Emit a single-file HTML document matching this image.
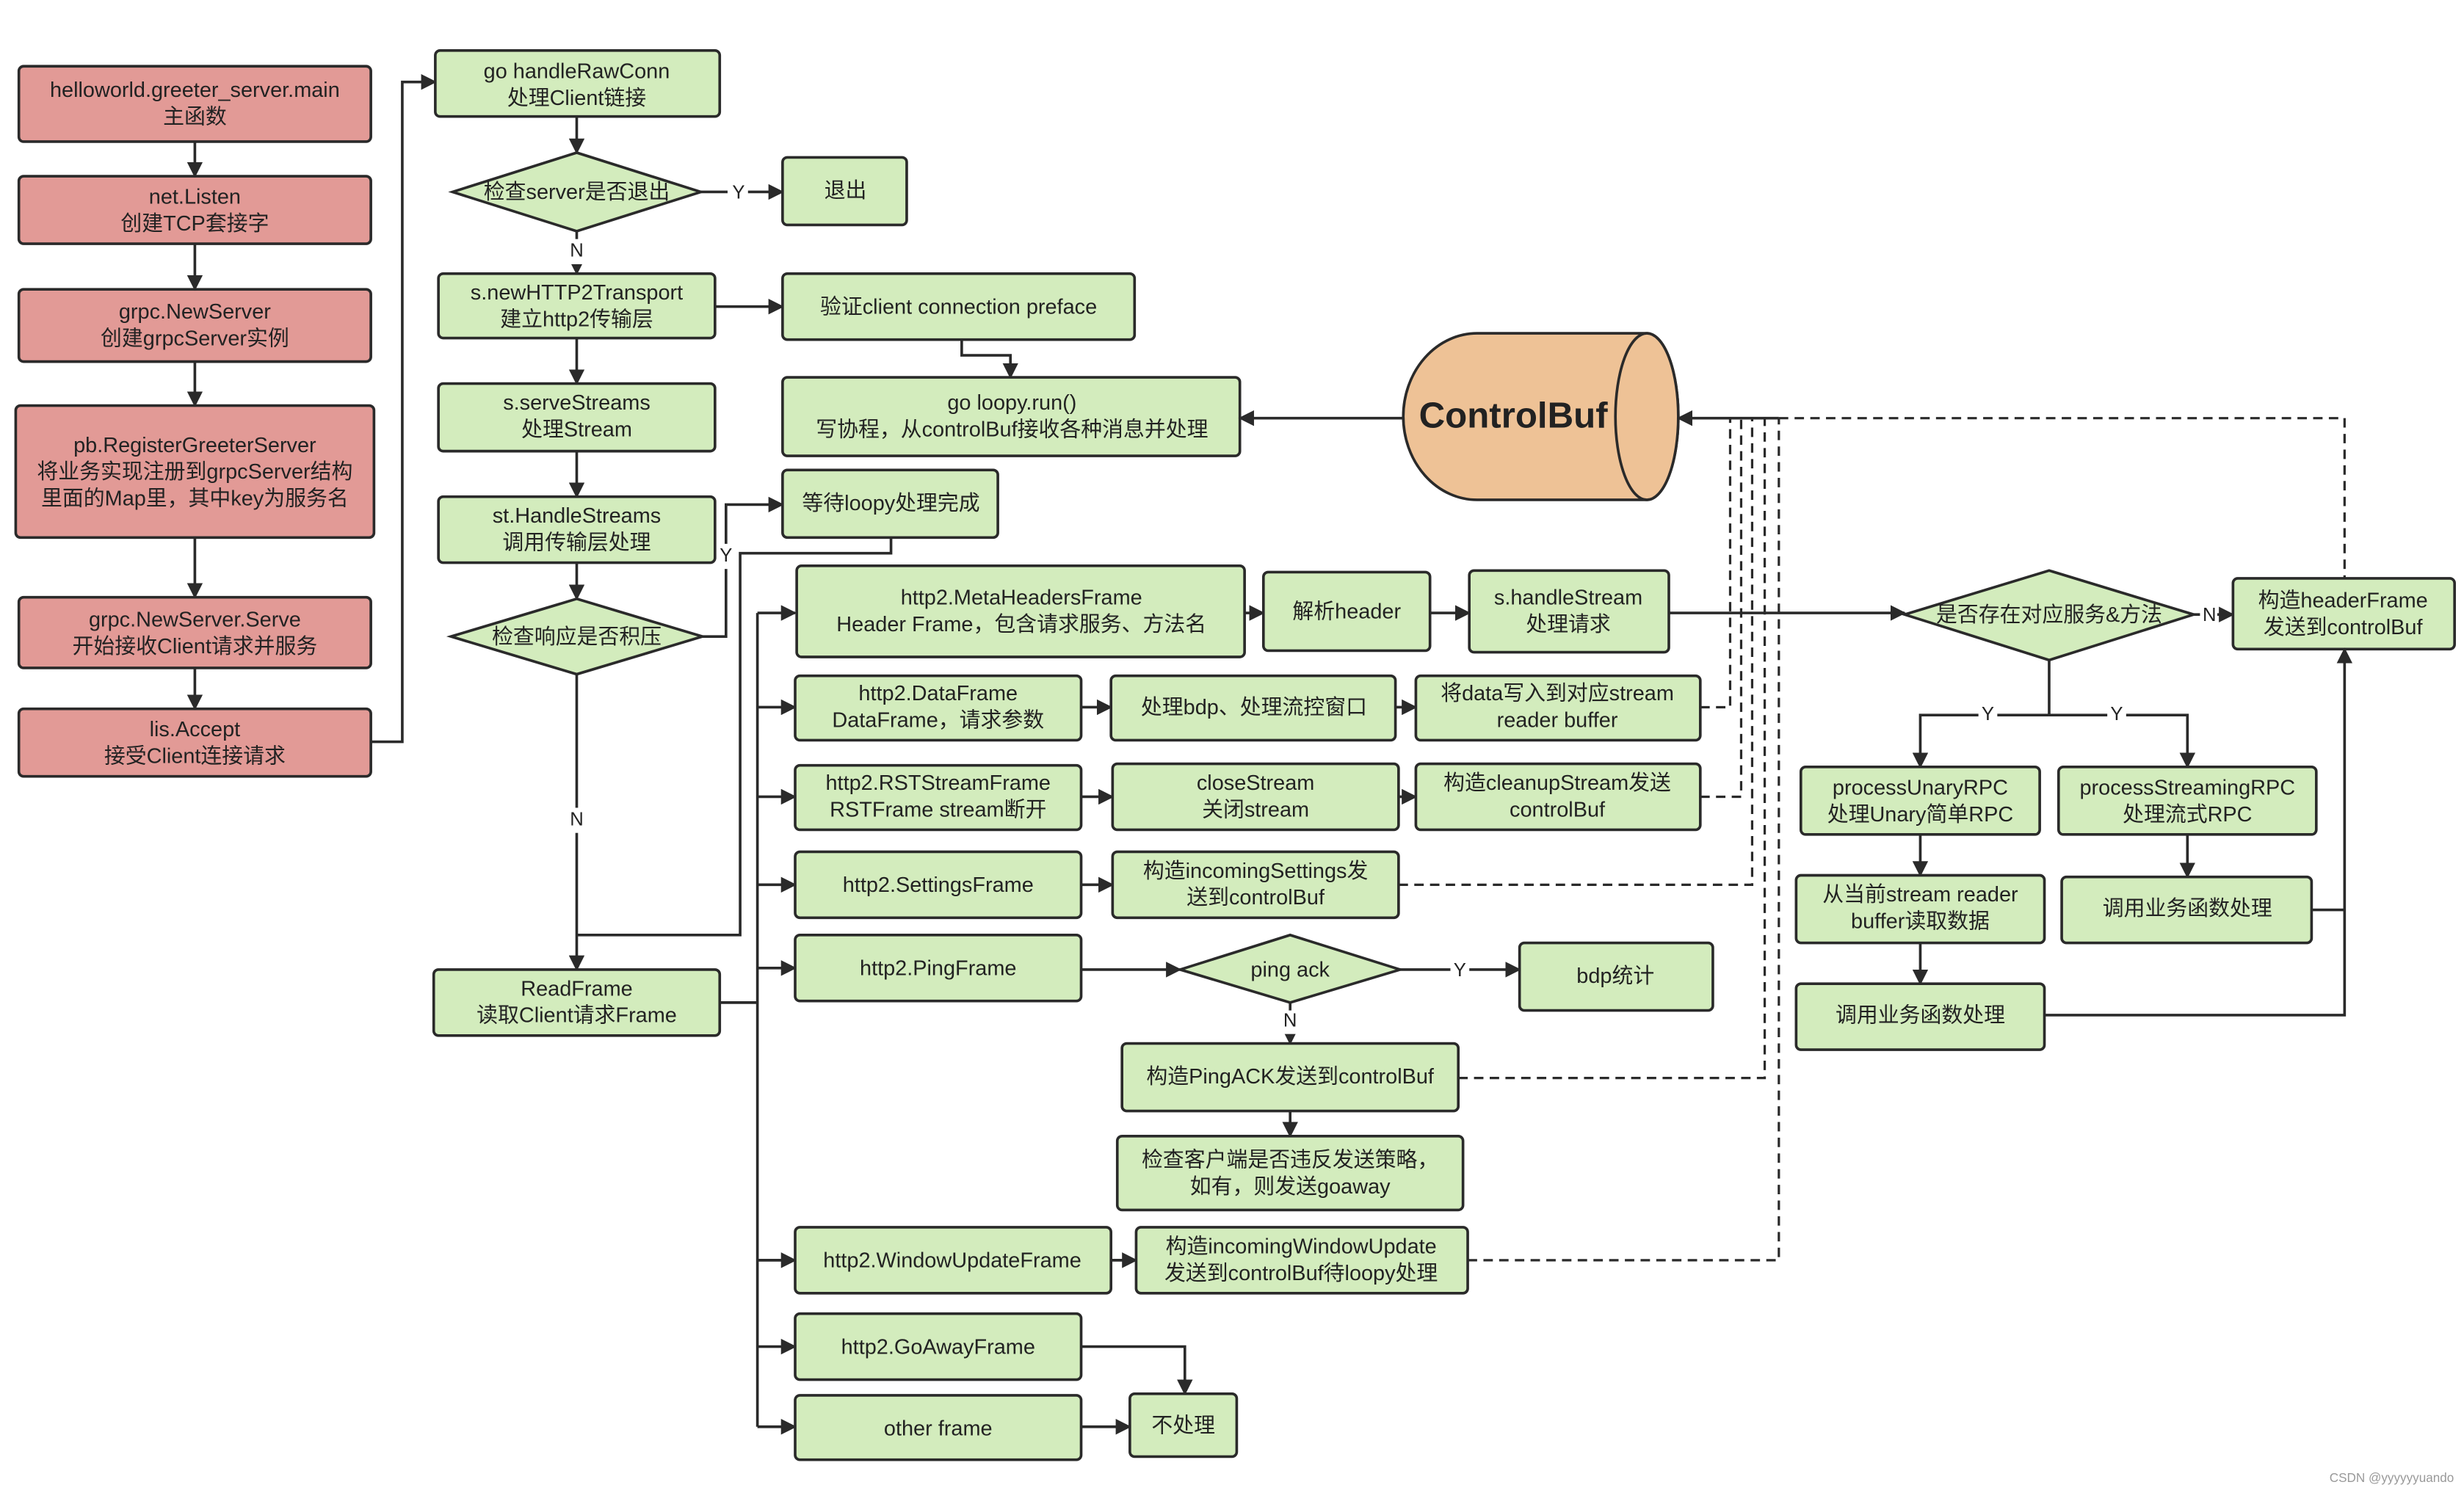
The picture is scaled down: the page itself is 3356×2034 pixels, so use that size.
<!DOCTYPE html>
<html><head><meta charset="utf-8"><style>
html,body{margin:0;padding:0;background:#fff;}
svg{display:block;}
text{font-family:"Liberation Sans","Noto Sans CJK SC",sans-serif;font-size:13.5px;fill:#222;text-anchor:middle;dominant-baseline:middle;}
.g{fill:#d3ecbd;stroke:#2a2a2a;stroke-width:1.7;}
.r{fill:#e29a96;stroke:#2a2a2a;stroke-width:1.7;}
.l{fill:none;stroke:#2a2a2a;stroke-width:1.7;}
.d{fill:none;stroke:#2a2a2a;stroke-width:1.5;stroke-dasharray:6 4;}
.lb{font-size:12px;}
</style></head><body>
<svg width="3356" height="2034" viewBox="0 0 1568 950" xmlns="http://www.w3.org/2000/svg">
<defs>
<marker id="a" markerWidth="10" markerHeight="10" refX="9" refY="5" orient="auto" markerUnits="userSpaceOnUse">
<path d="M0,0 L10,5 L0,10 z" fill="#2a2a2a"/></marker>
</defs>

<!-- left column red -->
<rect class="r" x="12" y="42" width="224" height="48" rx="3"/>
<text x="124" y="58">helloworld.greeter_server.main</text><text x="124" y="75">主函数</text>
<rect class="r" x="12" y="112" width="224" height="43" rx="3"/>
<text x="124" y="126">net.Listen</text><text x="124" y="143">创建TCP套接字</text>
<rect class="r" x="12" y="184" width="224" height="46" rx="3"/>
<text x="124" y="199">grpc.NewServer</text><text x="124" y="216">创建grpcServer实例</text>
<rect class="r" x="10" y="258" width="228" height="84" rx="3"/>
<text x="124" y="284">pb.RegisterGreeterServer</text><text x="124" y="301">将业务实现注册到grpcServer结构</text><text x="124" y="318">里面的Map里，其中key为服务名</text>
<rect class="r" x="12" y="380" width="224" height="45" rx="3"/>
<text x="124" y="395">grpc.NewServer.Serve</text><text x="124" y="412">开始接收Client请求并服务</text>
<rect class="r" x="12" y="451" width="224" height="43" rx="3"/>
<text x="124" y="465">lis.Accept</text><text x="124" y="482">接受Client连接请求</text>
<path class="l" d="M124,90V112" marker-end="url(#a)"/>
<path class="l" d="M124,155V184" marker-end="url(#a)"/>
<path class="l" d="M124,230V258" marker-end="url(#a)"/>
<path class="l" d="M124,342V380" marker-end="url(#a)"/>
<path class="l" d="M124,425V451" marker-end="url(#a)"/>
<path class="l" d="M236,472H256V52H277" marker-end="url(#a)"/>

<!-- column 2 -->
<rect class="g" x="277" y="32" width="181" height="42" rx="3"/>
<text x="367" y="46">go handleRawConn</text><text x="367" y="63">处理Client链接</text>
<path class="l" d="M367,74V97" marker-end="url(#a)"/>
<polygon class="g" points="288,122 367,97 446,122 367,147"/>
<text x="367" y="123">检查server是否退出</text>
<path class="l" d="M446,122H498" marker-end="url(#a)"/>
<rect x="463" y="114" width="13" height="16" fill="#fff"/><text x="470" y="123" class="lb">Y</text>
<rect class="g" x="498" y="100" width="79" height="43" rx="3"/><text x="538" y="122">退出</text>
<path class="l" d="M367,147V174" marker-end="url(#a)"/>
<rect x="361" y="152" width="12" height="16" fill="#fff"/><text x="367" y="160" class="lb">N</text>
<rect class="g" x="279" y="174" width="176" height="41" rx="3"/>
<text x="367" y="187">s.newHTTP2Transport</text><text x="367" y="204">建立http2传输层</text>
<path class="l" d="M455,195H498" marker-end="url(#a)"/>
<rect class="g" x="498" y="174" width="224" height="42" rx="3"/>
<text x="610" y="196">验证client connection preface</text>
<path class="l" d="M612,216V226H643V240" marker-end="url(#a)"/>
<rect class="g" x="498" y="240" width="291" height="50" rx="3"/>
<text x="644" y="257">go loopy.run()</text><text x="644" y="274">写协程，从controlBuf接收各种消息并处理</text>
<path class="l" d="M367,215V244" marker-end="url(#a)"/>
<rect class="g" x="279" y="244" width="176" height="43" rx="3"/>
<text x="367" y="257">s.serveStreams</text><text x="367" y="274">处理Stream</text>
<path class="l" d="M367,287V316" marker-end="url(#a)"/>
<rect class="g" x="279" y="316" width="176" height="42" rx="3"/>
<text x="367" y="329">st.HandleStreams</text><text x="367" y="346">调用传输层处理</text>
<path class="l" d="M367,358V381" marker-end="url(#a)"/>
<polygon class="g" points="287,405 367,381 447,405 367,429"/>
<text x="367" y="406">检查响应是否积压</text>
<path class="l" d="M447,405H462V321H498" marker-end="url(#a)"/>
<rect x="456" y="346" width="12" height="16" fill="#fff"/><text x="462" y="354" class="lb">Y</text>
<rect class="g" x="498" y="299" width="137" height="43" rx="3"/><text x="567" y="321">等待loopy处理完成</text>
<path class="l" d="M567,342V352H471V595H367"/>
<path class="l" d="M367,429V617" marker-end="url(#a)"/>
<rect x="361" y="514" width="12" height="16" fill="#fff"/><text x="367" y="522" class="lb">N</text>
<rect class="g" x="276" y="617" width="182" height="42" rx="3"/>
<text x="367" y="630">ReadFrame</text><text x="367" y="647">读取Client请求Frame</text>

<!-- bus -->
<path class="l" d="M458,638H482"/>
<path class="l" d="M482,390V908"/>
<path class="l" d="M482,390H506" marker-end="url(#a)"/>
<path class="l" d="M482,450H506" marker-end="url(#a)"/>
<path class="l" d="M482,507H506" marker-end="url(#a)"/>
<path class="l" d="M482,563H506" marker-end="url(#a)"/>
<path class="l" d="M482,616H506" marker-end="url(#a)"/>
<path class="l" d="M482,802H506" marker-end="url(#a)"/>
<path class="l" d="M482,857H506" marker-end="url(#a)"/>
<path class="l" d="M482,908H506" marker-end="url(#a)"/>

<!-- frames -->
<rect class="g" x="507" y="360" width="285" height="58" rx="3"/>
<text x="650" y="381">http2.MetaHeadersFrame</text><text x="650" y="398">Header Frame，包含请求服务、方法名</text>
<rect class="g" x="506" y="430" width="182" height="41" rx="3"/>
<text x="597" y="442">http2.DataFrame</text><text x="597" y="459">DataFrame，请求参数</text>
<rect class="g" x="506" y="487" width="182" height="41" rx="3"/>
<text x="597" y="499">http2.RSTStreamFrame</text><text x="597" y="516">RSTFrame stream断开</text>
<rect class="g" x="506" y="542" width="182" height="42" rx="3"/><text x="597" y="564">http2.SettingsFrame</text>
<rect class="g" x="506" y="595" width="182" height="42" rx="3"/><text x="597" y="617">http2.PingFrame</text>
<rect class="g" x="506" y="781" width="201" height="42" rx="3"/><text x="606" y="803">http2.WindowUpdateFrame</text>
<rect class="g" x="506" y="836" width="182" height="42" rx="3"/><text x="597" y="858">http2.GoAwayFrame</text>
<rect class="g" x="506" y="888" width="182" height="41" rx="3"/><text x="597" y="910">other frame</text>

<!-- second level -->
<path class="l" d="M792,390H804" marker-end="url(#a)"/>
<rect class="g" x="804" y="364" width="106" height="50" rx="3"/><text x="857" y="390">解析header</text>
<path class="l" d="M910,390H935" marker-end="url(#a)"/>
<rect class="g" x="935" y="363" width="127" height="52" rx="3"/>
<text x="998" y="381">s.handleStream</text><text x="998" y="398">处理请求</text>

<path class="l" d="M688,450H707" marker-end="url(#a)"/>
<rect class="g" x="707" y="430" width="181" height="41" rx="3"/><text x="798" y="451">处理bdp、处理流控窗口</text>
<path class="l" d="M888,450H901" marker-end="url(#a)"/>
<rect class="g" x="901" y="430" width="181" height="41" rx="3"/>
<text x="991" y="442">将data写入到对应stream</text><text x="991" y="459">reader buffer</text>

<path class="l" d="M688,507H708" marker-end="url(#a)"/>
<rect class="g" x="708" y="486" width="182" height="42" rx="3"/>
<text x="799" y="499">closeStream</text><text x="799" y="516">关闭stream</text>
<path class="l" d="M890,507H901" marker-end="url(#a)"/>
<rect class="g" x="901" y="486" width="181" height="42" rx="3"/>
<text x="991" y="499">构造cleanupStream发送</text><text x="991" y="516">controlBuf</text>

<path class="l" d="M688,563H708" marker-end="url(#a)"/>
<rect class="g" x="708" y="542" width="182" height="42" rx="3"/>
<text x="799" y="555">构造incomingSettings发</text><text x="799" y="572">送到controlBuf</text>

<path class="l" d="M688,617H751" marker-end="url(#a)"/>
<polygon class="g" points="751,617 821,595 891,617 821,638"/>
<text x="821" y="618">ping ack</text>
<path class="l" d="M891,617H967" marker-end="url(#a)"/>
<rect x="923" y="609" width="12" height="16" fill="#fff"/><text x="929" y="618" class="lb">Y</text>
<rect class="g" x="967" y="600" width="123" height="43" rx="3"/><text x="1028" y="622">bdp统计</text>
<path class="l" d="M821,638V664" marker-end="url(#a)"/>
<rect x="815" y="643" width="12" height="15" fill="#fff"/><text x="821" y="650" class="lb">N</text>
<rect class="g" x="714" y="664" width="214" height="43" rx="3"/><text x="821" y="686">构造PingACK发送到controlBuf</text>
<path class="l" d="M821,707V723" marker-end="url(#a)"/>
<rect class="g" x="711" y="723" width="220" height="47" rx="3"/>
<text x="821" y="739">检查客户端是否违反发送策略，</text><text x="821" y="756">如有，则发送goaway</text>

<path class="l" d="M707,802H723" marker-end="url(#a)"/>
<rect class="g" x="723" y="781" width="211" height="42" rx="3"/>
<text x="828" y="794">构造incomingWindowUpdate</text><text x="828" y="811">发送到controlBuf待loopy处理</text>

<path class="l" d="M688,857H754V887" marker-end="url(#a)"/>
<path class="l" d="M688,908H719" marker-end="url(#a)"/>
<rect class="g" x="719" y="887" width="68" height="40" rx="3"/><text x="753" y="908">不处理</text>

<!-- ControlBuf cylinder -->
<path d="M940,212 H1048 A20,53 0 0 1 1048,318 H940 A47,53 0 0 1 893,265 A47,53 0 0 1 940,212 Z" fill="#eec296" stroke="#2a2a2a" stroke-width="1.7"/>
<ellipse cx="1048" cy="265" rx="20" ry="53" fill="#eec296" stroke="#2a2a2a" stroke-width="1.7"/>
<text x="963" y="266" style="font-size:23px;font-weight:bold;">ControlBuf</text>
<path class="l" d="M893,266H789" marker-end="url(#a)"/>
<path class="l" d="M1132,266H1068" marker-end="url(#a)"/>

<!-- dashed -->
<path class="d" d="M1082,450H1101V266"/>
<path class="d" d="M1082,507H1108V266"/>
<path class="d" d="M890,563H1115V266"/>
<path class="d" d="M928,686H1123V266"/>
<path class="d" d="M934,802H1132V266"/>
<path class="d" d="M1132,266H1492V368"/>

<!-- right side -->
<path class="l" d="M1062,390H1212" marker-end="url(#a)"/>
<polygon class="g" points="1212,391 1304,363 1396,391 1304,420"/>
<text x="1304" y="392">是否存在对应服务&amp;方法</text>
<path class="l" d="M1396,391H1421" marker-end="url(#a)"/>
<rect x="1400" y="383" width="11" height="16" fill="#fff"/><text x="1406" y="392" class="lb">N</text>
<rect class="g" x="1421" y="368" width="141" height="45" rx="3"/>
<text x="1491" y="383">构造headerFrame</text><text x="1491" y="400">发送到controlBuf</text>

<path class="l" d="M1304,420V455"/>
<path class="l" d="M1304,455H1222V488" marker-end="url(#a)"/>
<path class="l" d="M1304,455H1392V488" marker-end="url(#a)"/>
<rect x="1259" y="447" width="12" height="16" fill="#fff"/><text x="1265" y="455" class="lb">Y</text>
<rect x="1341" y="447" width="12" height="16" fill="#fff"/><text x="1347" y="455" class="lb">Y</text>
<rect class="g" x="1146" y="488" width="152" height="43" rx="3"/>
<text x="1222" y="502">processUnaryRPC</text><text x="1222" y="519">处理Unary简单RPC</text>
<rect class="g" x="1310" y="488" width="164" height="43" rx="3"/>
<text x="1392" y="502">processStreamingRPC</text><text x="1392" y="519">处理流式RPC</text>
<path class="l" d="M1222,531V557" marker-end="url(#a)"/>
<path class="l" d="M1392,531V558" marker-end="url(#a)"/>
<rect class="g" x="1143" y="557" width="158" height="43" rx="3"/>
<text x="1222" y="570">从当前stream reader</text><text x="1222" y="587">buffer读取数据</text>
<rect class="g" x="1312" y="558" width="159" height="42" rx="3"/><text x="1392" y="579">调用业务函数处理</text>
<path class="l" d="M1222,600V626" marker-end="url(#a)"/>
<rect class="g" x="1143" y="626" width="158" height="42" rx="3"/><text x="1222" y="647">调用业务函数处理</text>
<path class="l" d="M1301,646H1492V413" marker-end="url(#a)"/>
<path class="l" d="M1471,579H1492"/>

<text x="1522" y="941" style="font-size:8px;fill:#999;">CSDN @yyyyyyuando</text>
</svg>
</body></html>
